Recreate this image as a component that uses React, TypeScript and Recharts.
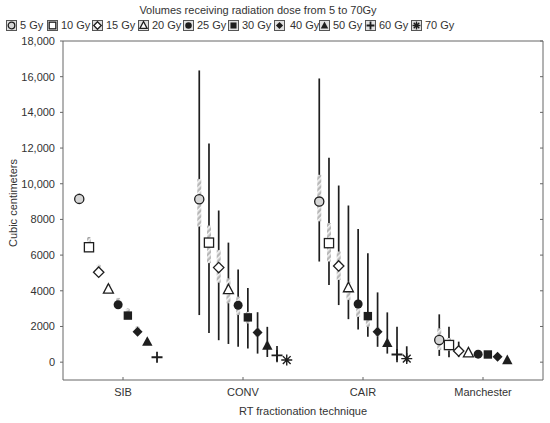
import { ScatterChart, Scatter, XAxis, YAxis, ErrorBar, ReferenceArea } from 'recharts'

const GROUPS = ['SIB', 'CONV', 'CAIR', 'Manchester']
const DOSES = ['5 Gy', '10 Gy', '15 Gy', '20 Gy', '25 Gy', '30 Gy', '40 Gy', '50 Gy', '60 Gy', '70 Gy']
const Y_TICKS = [0, 2000, 4000, 6000, 8000, 10000, 12000, 14000, 16000, 18000]

// per group, one value per dose (null = not reported)
const sibMean = [9150, 6440, 5040, 4090, 3220, 2610, 1710, 1150, 275, null]
const sibBoxHi = [9450, 7000, 5450, 4350, 3600, 2990, 1990, null, null, null]
const sibBoxLo = [8950, 6250, 4900, 3950, 3100, 2500, 1620, null, null, null]

const convMean = [9130, 6700, 5300, 4060, 3190, 2510, 1660, 930, 380, 120]
const convSdHi = [16350, 12250, 8500, 6700, 5200, 4150, 2800, 1980, 910, null]
const convSdLo = [2640, 1640, 1230, 1020, 860, 760, 480, 290, 0, null]
const convBoxHi = [10270, 7660, 6290, 4700, 3670, 2820, 1920, 1150, null, null]
const convBoxLo = [7600, 5550, 4450, 3300, 2640, 2170, 1420, 750, null, null]

const cairMean = [9000, 6670, 5390, 4170, 3260, 2580, 1700, 1080, 430, 200]
const cairSdHi = [15900, 11450, 9900, 8780, 7460, 6110, 3910, 2790, 1980, 890]
const cairSdLo = [5640, 4320, 3200, 2410, 1830, 1420, 860, 480, 0, 0]
const cairBoxHi = [10500, 7800, 6200, 4510, 3480, 2730, 1950, 1250, null, null]
const cairBoxLo = [7890, 5640, 4610, 3480, 2540, 1980, 1450, 900, null, null]

const manMean = [1240, 960, 630, 520, 450, 430, 310, 120, null, null]
const manSdHi = [2680, 1990, 1150, null, null, null, null, null, null, null]
const manSdLo = [350, 280, 280, null, null, null, null, null, null, null]
const manBoxHi = [1900, 1350, 800, null, null, null, null, null, null, null]
const manBoxLo = [680, 650, 500, null, null, null, null, null, null, null]

const MEANS = [sibMean, convMean, cairMean, manMean]
const SD_HI = [sibBoxHi, convSdHi, cairSdHi, manSdHi]
const SD_LO = [sibBoxLo, convSdLo, cairSdLo, manSdLo]
const BOX_HI = [sibBoxHi, convBoxHi, cairBoxHi, manBoxHi]
const BOX_LO = [sibBoxLo, convBoxLo, cairBoxLo, manBoxLo]

const INK = '#1e1e1e'
const TEXT = '#333'
const FONT = '"Liberation Sans", Arial, sans-serif'

function rowsFor(di: number) {
  const rows: { x: number; y: number; sd?: number[]; se?: number[] }[] = []
  GROUPS.forEach((_, gi) => {
    const y = MEANS[gi][di]
    if (y === null) return
    const sh = SD_HI[gi][di], sl = SD_LO[gi][di]
    const bh = BOX_HI[gi][di], bl = BOX_LO[gi][di]
    rows.push({
      x: gi + 0.5 + (di - 4.5) * 0.081,
      y,
      sd: sh !== null && sl !== null ? [y - sl, sh - y] : undefined,
      se: bh !== null && bl !== null ? [y - bl, bh - y] : undefined,
    })
  })
  return rows
}

function drawMarker(kind: number, cx: number, cy: number, s = 1) {
  const sw = 1.3
  switch (kind) {
    case 0:
      return <circle cx={cx} cy={cy} r={4.6 * s} fill="#d6d6d6" stroke={INK} strokeWidth={sw} />
    case 1:
      return <rect x={cx - 4.6 * s} y={cy - 4.6 * s} width={9.2 * s} height={9.2 * s} fill="#fff" stroke={INK} strokeWidth={sw} />
    case 2:
      return <polygon points={`${cx},${cy - 5.2 * s} ${cx + 5.2 * s},${cy} ${cx},${cy + 5.2 * s} ${cx - 5.2 * s},${cy}`} fill="#fff" stroke={INK} strokeWidth={sw} />
    case 3:
      return <polygon points={`${cx},${cy - 5.5 * s} ${cx + 5 * s},${cy + 4 * s} ${cx - 5 * s},${cy + 4 * s}`} fill="#fff" stroke={INK} strokeWidth={sw} />
    case 4:
      return <circle cx={cx} cy={cy} r={4.5 * s} fill={INK} />
    case 5:
      return <rect x={cx - 4.2 * s} y={cy - 4.2 * s} width={8.4 * s} height={8.4 * s} fill={INK} />
    case 6:
      return <polygon points={`${cx},${cy - 5 * s} ${cx + 5 * s},${cy} ${cx},${cy + 5 * s} ${cx - 5 * s},${cy}`} fill={INK} />
    case 7:
      return <polygon points={`${cx},${cy - 5.5 * s} ${cx + 5.2 * s},${cy + 4.2 * s} ${cx - 5.2 * s},${cy + 4.2 * s}`} fill={INK} />
    case 8:
      return <path d={`M${cx - 5.5 * s},${cy}H${cx + 5.5 * s}M${cx},${cy - 5.5 * s}V${cy + 5.5 * s}`} stroke={INK} strokeWidth={1.8} />
    default: {
      const r = 5.5 * s
      const d = r * 0.707
      return <path d={`M${cx - r},${cy}H${cx + r}M${cx},${cy - r}V${cy + r}M${cx - d},${cy - d}L${cx + d},${cy + d}M${cx - d},${cy + d}L${cx + d},${cy - d}`} stroke={INK} strokeWidth={1.4} />
    }
  }
}

const LEGEND_X = [6, 47, 92, 138, 183, 228, 274, 319, 365, 411]

function LegendIcon({ kind }: { kind: number }) {
  return (
    <svg width={11} height={11} style={{ display: 'block' }}>
      <rect x={0.5} y={0.5} width={10} height={10} fill="#e2e2e2" stroke="#555" />
      {drawMarker(kind, 5.5, 5.5, 0.72)}
    </svg>
  )
}

const YTick = (props: any) => {
  const { x, y, payload } = props
  const v = payload.value as number
  const label = v >= 10000 ? v.toLocaleString('en-US') : String(v)
  return (
    <g>
      <line x1={x + 5} x2={x + 8} y1={y} y2={y} stroke="#666" />
      <line x1={540} x2={543} y1={y} y2={y} stroke="#666" />
      <text x={x} y={y} dy={4} textAnchor="end" fontSize={11} fill={TEXT} fontFamily={FONT}>{label}</text>
    </g>
  )
}

const XTick = (props: any) => {
  const { x, y, payload } = props
  const name = GROUPS[Math.floor(payload.value)]
  return (
    <g>
      <line x1={x} x2={x} y1={y} y2={y - 3} stroke="#666" />
      <text x={x} y={y + 16} textAnchor="middle" fontSize={11} fill={TEXT} fontFamily={FONT}>{name}</text>
    </g>
  )
}

export default function App() {
  return (
    <div style={{ position: 'absolute', left: 0, top: 0, width: 550, height: 423, background: '#fff', fontFamily: FONT, color: TEXT }}>
      <div style={{ position: 'absolute', left: 0, width: 516, top: 3, textAlign: 'center', fontSize: 11, lineHeight: '14px' }}>
        Volumes receiving radiation dose from 5 to 70Gy
      </div>
      {DOSES.map((d, i) => (
        <div key={d} style={{ position: 'absolute', left: LEGEND_X[i], top: 19, display: 'flex', alignItems: 'center', fontSize: 11, lineHeight: '13px', whiteSpace: 'nowrap' }}>
          <LegendIcon kind={i} />
          <span style={{ marginLeft: i === 6 ? 5 : 3 }}>{d}</span>
        </div>
      ))}
      <div style={{ position: 'absolute', left: 13, top: 203, transform: 'translate(-50%, -50%) rotate(-90deg)', fontSize: 11, whiteSpace: 'nowrap' }}>
        Cubic centimeters
      </div>
      <div style={{ position: 'absolute', left: 0, width: 606, top: 404, textAlign: 'center', fontSize: 11, lineHeight: '14px' }}>
        RT fractionation technique
      </div>
      <ScatterChart width={550} height={423} margin={{ top: 41, right: 7, bottom: 0, left: 8 }}>
        <defs>
          <pattern id="hatch" width={4} height={4} patternUnits="userSpaceOnUse" patternTransform="rotate(45)">
            <rect width={4} height={4} fill="#b8b8b8" />
            <rect width={1.6} height={4} fill="#f4f4f4" />
          </pattern>
        </defs>
        <XAxis
          type="number"
          dataKey="x"
          domain={[0, 4]}
          ticks={[0.5, 1.5, 2.5, 3.5]}
          height={43}
          axisLine={false}
          tickLine={false}
          tickSize={0}
          tickMargin={0}
          tick={XTick}
        />
        <YAxis
          type="number"
          dataKey="y"
          domain={[-1000, 18000]}
          ticks={Y_TICKS}
          width={55}
          axisLine={false}
          tickLine={false}
          tickSize={0}
          tickMargin={8}
          tick={YTick}
          interval={0}
        />
        <ReferenceArea x1={0} x2={4} y1={-1000} y2={18000} fill="none" stroke="#666" strokeWidth={1} />
        {DOSES.map((d, di) => (
          <Scatter
            key={d}
            name={d}
            data={rowsFor(di)}
            isAnimationActive={false}
            shape={(p: any) => drawMarker(di, p.cx, p.cy)}
          >
            <ErrorBar dataKey="sd" direction="y" width={0} stroke={INK} strokeWidth={1.7} />
            <ErrorBar dataKey="se" direction="y" width={0} stroke="url(#hatch)" strokeWidth={4} />
          </Scatter>
        ))}
      </ScatterChart>
    </div>
  )
}
